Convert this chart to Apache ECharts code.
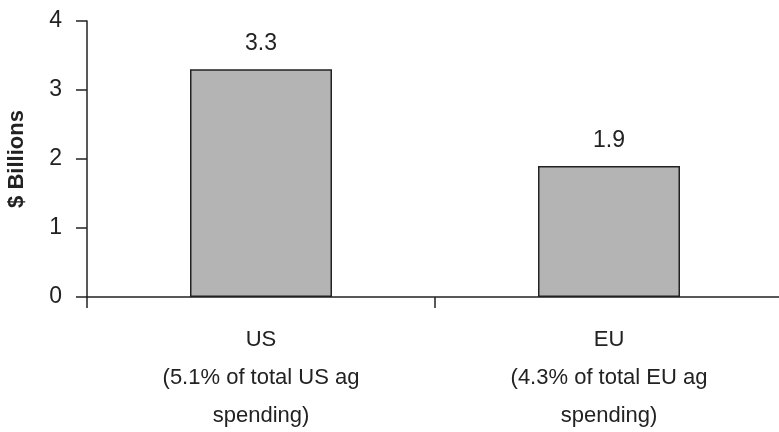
<!DOCTYPE html>
<html>
<head>
<meta charset="utf-8">
<script src="https://cdn.jsdelivr.net/npm/echarts@6/dist/echarts.min.js"></script>
<style>
  html, body { margin: 0; padding: 0; background: #fff; }
  #chart { width: 779px; height: 432px; }
</style>
</head>
<body>
<div id="chart"></div>
<script>
// chart data
const categories = [
  'US\n(5.1% of total US ag\nspending)',
  'EU\n(4.3% of total EU ag\nspending)'
];
const values = [3.3, 1.9];
const yTicks = [0, 1, 2, 3, 4];

const chartDom = document.getElementById('chart');
const myChart = echarts.init(chartDom);

const option = {
  backgroundColor: '#fff',
  animation: false,
  textStyle: { fontFamily: 'Liberation Sans, Arial, sans-serif' },
  grid: {
    left: 87,
    top: 21,
    width: 696,
    bottom: 135,
    outerBoundsMode: 'none'
  },
  xAxis: {
    type: 'category',
    data: categories,
    axisLine: { lineStyle: { color: '#222', width: 1.5 } },
    axisTick: { show: true, length: 11, lineStyle: { color: '#222', width: 1.5 } },
    axisLabel: {
      color: '#222',
      fontSize: 22,
      lineHeight: 38,
      margin: 24,
      interval: 0
    }
  },
  yAxis: {
    type: 'value',
    min: yTicks[0],
    max: yTicks[yTicks.length - 1],
    interval: 1,
    name: '$ Billions',
    nameLocation: 'middle',
    nameGap: 59,
    nameTextStyle: { color: '#222', fontSize: 22, fontWeight: 'bold' },
    axisLine: { show: true, lineStyle: { color: '#222', width: 1.5 } },
    axisTick: { show: true, length: 11, lineStyle: { color: '#222', width: 1.5 } },
    axisLabel: { color: '#222', fontSize: 23, margin: 25, padding: [9, 0, 0, 0] },
    splitLine: { show: false }
  },
  series: [
    {
      type: 'bar',
      data: values,
      barWidth: 142,
      itemStyle: {
        color: '#b4b4b4',
        borderColor: '#222',
        borderWidth: 1.5
      },
      label: {
        show: true,
        position: 'top',
        distance: 14,
        color: '#222',
        fontSize: 23,
        formatter: (p) => p.value.toFixed(1)
      }
    }
  ]
};

option && myChart.setOption(option);
</script>
</body>
</html>
